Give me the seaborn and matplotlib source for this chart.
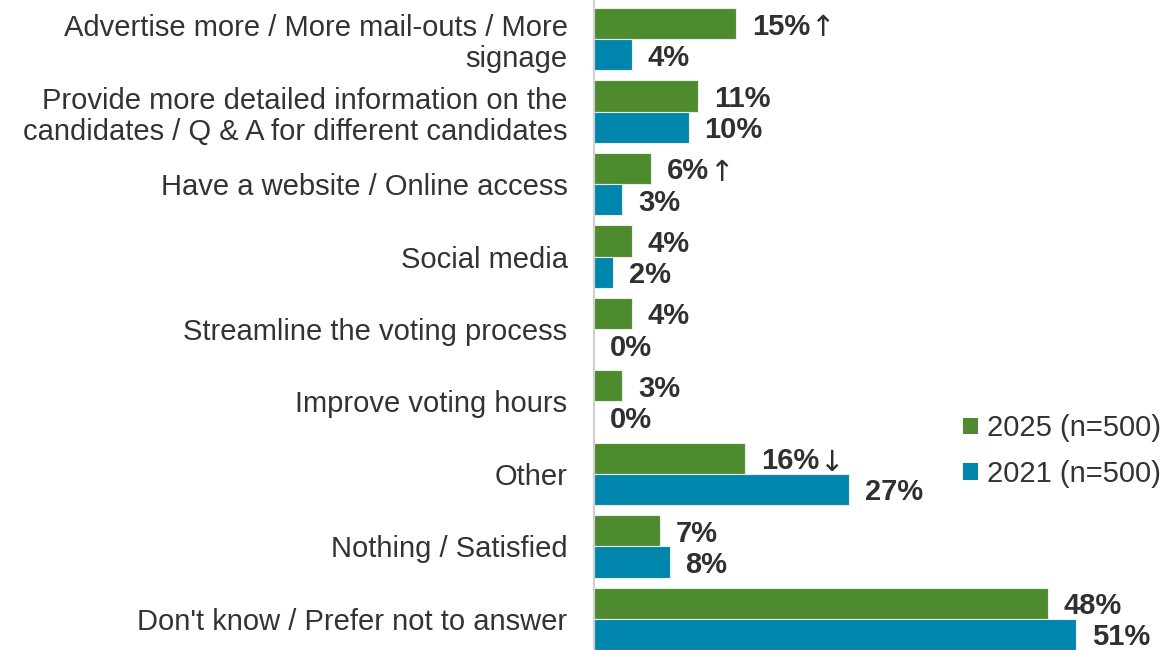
import matplotlib
matplotlib.use("Agg")
import matplotlib.pyplot as plt
from matplotlib.patches import Patch
import seaborn as sns
import pandas as pd

categories = [
    "Advertise more / More mail-outs / More\nsignage",
    "Provide more detailed information on the\ncandidates / Q & A for different candidates",
    "Have a website / Online access",
    "Social media",
    "Streamline the voting process",
    "Improve voting hours",
    "Other",
    "Nothing / Satisfied",
    "Don't know / Prefer not to answer",
]
values_2025 = [15, 11, 6, 4, 4, 3, 16, 7, 48]
values_2021 = [4, 10, 3, 2, 0, 0, 27, 8, 51]
# significant change markers shown after the 2025 value
change_2025 = ["↑", "", "↑", "", "", "", "↓", "", ""]
series_labels = ["2025 (n=500)", "2021 (n=500)"]
colors = ["#4E8A2E", "#0085AD"]

sns.set_theme(style="white")
plt.rcParams["font.family"] = ["Liberation Sans", "DejaVu Sans"]

df = pd.DataFrame({
    "category": categories * 2,
    "value": values_2025 + values_2021,
    "series": [series_labels[0]] * len(categories) + [series_labels[1]] * len(categories),
})

fig = plt.figure(figsize=(11.67, 6.5), dpi=100)
ax = fig.add_axes([0.509, 0.0, 0.491, 1.0])

sns.barplot(data=df, y="category", x="value", hue="series", order=categories,
            hue_order=series_labels, palette=colors, orient="h", width=0.86,
            edgecolor="#e8efe4", linewidth=0.8, saturation=1, legend=False, ax=ax)

ax.set_xlim(0, 60.6)
ax.set_ylim(8.43, -0.54)
ax.set_xlabel("")
ax.set_ylabel("")
ax.set_xticks([])
ax.tick_params(axis="y", length=0, pad=19, labelsize=21, labelcolor="#333333")
for lbl in ax.get_yticklabels():
    lbl.set_horizontalalignment("right")
    lbl.set_linespacing(1.15)
for side in ["top", "right", "bottom"]:
    ax.spines[side].set_visible(False)
ax.spines["left"].set_color("#d0d0d0")
ax.spines["left"].set_linewidth(1.5)

text_color = "#303030"
for ci, (container, vals) in enumerate(zip(ax.containers, [values_2025, values_2021])):
    for i, (bar, v) in enumerate(zip(container.patches, vals)):
        y = bar.get_y() + bar.get_height() / 2
        t = ax.annotate(f"{v}%", xy=(v, y), xytext=(11.5, 0), textcoords="offset points",
                        ha="left", va="center_baseline", fontsize=21, fontweight="bold",
                        color=text_color)
        if ci == 0 and change_2025[i]:
            ax.annotate(change_2025[i], xy=(1, 0.5), xycoords=t, xytext=(0, -1),
                        textcoords="offset points", ha="left", va="center",
                        fontsize=21, color=text_color, family="DejaVu Sans")

handles = [Patch(facecolor=c, edgecolor="none") for c in colors]
fig.legend(handles, series_labels, loc="center right", bbox_to_anchor=(1.017, 0.306),
           frameon=False, fontsize=21, handlelength=0.5, handleheight=0.5,
           handletextpad=0.3, labelspacing=0.6, labelcolor="#333333")

fig.savefig("out.png", dpi=100)
